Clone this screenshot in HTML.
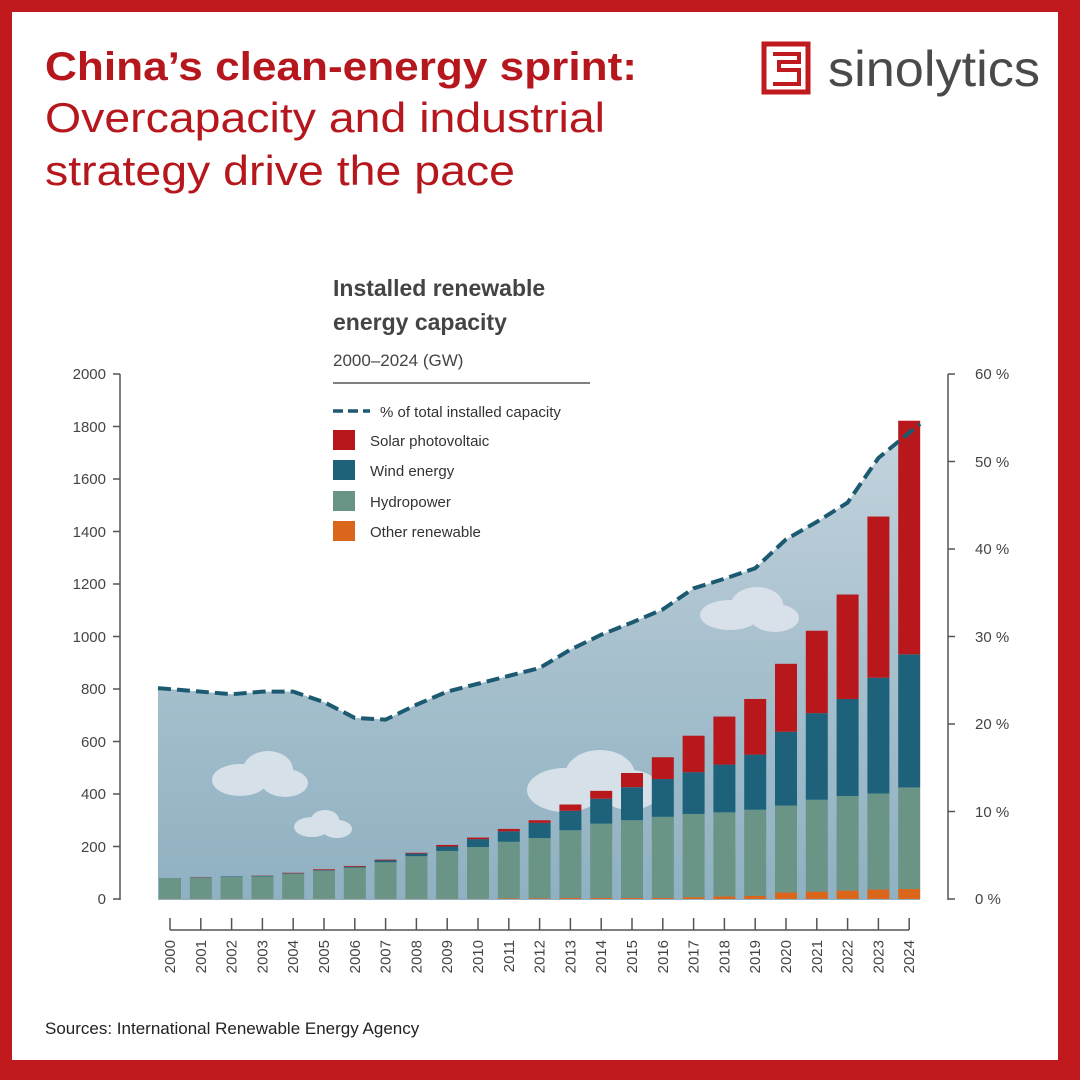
<!DOCTYPE html>
<html><head><meta charset="utf-8"><style>
html,body{margin:0;padding:0;background:#fff}
#f{position:relative;width:1080px;height:1080px;background:#c0191e;overflow:hidden}
#in{position:absolute;left:12px;top:12px;width:1046px;height:1048px;background:#fff}
svg{position:absolute;left:0;top:0}
text{font-family:"Liberation Sans",sans-serif}
</style></head><body><div id="f"><div id="in"></div>
<svg id="s" width="1080" height="1080" viewBox="0 0 1080 1080">
<defs>
<linearGradient id="g" x1="0" y1="0" x2="0" y2="1">
<stop offset="0" stop-color="#c3d4de"/><stop offset="0.5" stop-color="#a7c0cd"/><stop offset="1" stop-color="#8fb1c2"/></linearGradient>
</defs>
<text x="45" y="80" font-size="40" font-weight="bold" fill="#b5171d" textLength="592" lengthAdjust="spacingAndGlyphs">China’s clean-energy sprint:</text>
<text x="45" y="132" font-size="42" fill="#b5171d" textLength="560" lengthAdjust="spacingAndGlyphs">Overcapacity and industrial</text>
<text x="45" y="185" font-size="42" fill="#b5171d" textLength="470" lengthAdjust="spacingAndGlyphs">strategy drive the pace</text>
<rect x="764" y="44" width="44" height="48" fill="none" stroke="#c0191e" stroke-width="5"/>
<path d="M773 54h26v8h-20v8h20v14h-26" fill="none" stroke="#c0191e" stroke-width="4"/>
<text x="828" y="86" font-size="50" fill="#4a4a4a" textLength="212" lengthAdjust="spacingAndGlyphs">sinolytics</text>
<g id="area"></g>
<g id="clouds" fill="#dde5ec" opacity="0.9">
<ellipse cx="240" cy="780" rx="28" ry="16"/><ellipse cx="268" cy="770" rx="25" ry="19"/><ellipse cx="285" cy="783" rx="23" ry="14"/>
<ellipse cx="312" cy="827" rx="18" ry="10"/><ellipse cx="325" cy="820" rx="14" ry="10"/><ellipse cx="337" cy="829" rx="15" ry="9"/>
<ellipse cx="565" cy="790" rx="38" ry="22"/><ellipse cx="600" cy="775" rx="35" ry="25"/><ellipse cx="630" cy="790" rx="30" ry="20"/>
<ellipse cx="730" cy="615" rx="30" ry="15"/><ellipse cx="757" cy="605" rx="26" ry="18"/><ellipse cx="775" cy="618" rx="24" ry="14"/>
</g>
<g id="bars"></g>
<path id="ln" fill="none" stroke="#1c5a72" stroke-width="4" stroke-dasharray="13,6"/>
<text x="333" y="296" font-size="23" font-weight="bold" fill="#444">Installed renewable</text>
<text x="333" y="330" font-size="23" font-weight="bold" fill="#444">energy capacity</text>
<text x="333" y="366" font-size="17" fill="#444">2000–2024 (GW)</text>
<line x1="333" y1="383" x2="590" y2="383" stroke="#555" stroke-width="1.5"/>
<line x1="333" y1="411" x2="370" y2="411" stroke="#1c5a72" stroke-width="3.5" stroke-dasharray="10,5"/>
<text x="380" y="417" font-size="15" fill="#333">% of total installed capacity</text>
<rect x="333" y="430" width="22" height="20" fill="#b8181c"/><text x="370" y="446" font-size="15" fill="#333">Solar photovoltaic</text>
<rect x="333" y="460" width="22" height="20" fill="#1d627a"/><text x="370" y="476" font-size="15" fill="#333">Wind energy</text>
<rect x="333" y="491" width="22" height="20" fill="#6a9486"/><text x="370" y="507" font-size="15" fill="#333">Hydropower</text>
<rect x="333" y="521" width="22" height="20" fill="#d9661a"/><text x="370" y="537" font-size="15" fill="#333">Other renewable</text>
<g stroke="#555" stroke-width="1.5" fill="none">
<path d="M120 374V900M113 374h7M113 426.5h7M113 479h7M113 531.5h7M113 584h7M113 636.5h7M113 689h7M113 741.5h7M113 794h7M113 846.5h7M113 899h7"/>
<path d="M948 374V900M948 374h7M948 461.5h7M948 549h7M948 636.5h7M948 724h7M948 811.5h7M948 899h7"/>
<path id="xt" d="M170 930H909"/>
</g>
<g font-size="15" fill="#444" text-anchor="end">
<text x="106" y="379">2000</text><text x="106" y="432">1800</text><text x="106" y="484">1600</text><text x="106" y="537">1400</text><text x="106" y="589">1200</text><text x="106" y="642">1000</text><text x="106" y="694">800</text><text x="106" y="747">600</text><text x="106" y="799">400</text><text x="106" y="852">200</text><text x="106" y="904">0</text>
</g>
<g font-size="15" fill="#444">
<text x="975" y="379">60 %</text><text x="975" y="467">50 %</text><text x="975" y="554">40 %</text><text x="975" y="642">30 %</text><text x="975" y="729">20 %</text><text x="975" y="817">10 %</text><text x="975" y="904">0 %</text>
</g>
<g font-size="15" fill="#444" text-anchor="end">
<text transform="translate(175,940) rotate(-90)">2000</text><text transform="translate(205.8,940) rotate(-90)">2001</text><text transform="translate(236.6,940) rotate(-90)">2002</text><text transform="translate(267.4,940) rotate(-90)">2003</text><text transform="translate(298.2,940) rotate(-90)">2004</text><text transform="translate(329,940) rotate(-90)">2005</text><text transform="translate(359.8,940) rotate(-90)">2006</text><text transform="translate(390.6,940) rotate(-90)">2007</text><text transform="translate(421.4,940) rotate(-90)">2008</text><text transform="translate(452.2,940) rotate(-90)">2009</text><text transform="translate(483,940) rotate(-90)">2010</text><text transform="translate(513.8,940) rotate(-90)">2011</text><text transform="translate(544.6,940) rotate(-90)">2012</text><text transform="translate(575.4,940) rotate(-90)">2013</text><text transform="translate(606.2,940) rotate(-90)">2014</text><text transform="translate(637,940) rotate(-90)">2015</text><text transform="translate(667.8,940) rotate(-90)">2016</text><text transform="translate(698.6,940) rotate(-90)">2017</text><text transform="translate(729.4,940) rotate(-90)">2018</text><text transform="translate(760.2,940) rotate(-90)">2019</text><text transform="translate(791,940) rotate(-90)">2020</text><text transform="translate(821.8,940) rotate(-90)">2021</text><text transform="translate(852.6,940) rotate(-90)">2022</text><text transform="translate(883.4,940) rotate(-90)">2023</text><text transform="translate(914.2,940) rotate(-90)">2024</text>
</g>
<text x="45" y="1034" font-size="17" fill="#222">Sources: International Renewable Energy Agency</text>
</svg></div>
<script>
var NS="http://www.w3.org/2000/svg";
var d=[[1,80,80,80],[1,81,82,83],[1,84,86,86],[1,86,88,89],[1,96,98,100],[1,108,110,113],[1,120,123,126],[1,140,147,150],[1,163,173,176],[1,183,200,206],[1,198,228,234],[3,218,258,267],[3,232,290,300],[4,262,336,360],[4,287,382,412],[4,300,426,480],[4,313,457,540],[7,324,483,622],[10,330,512,695],[12,340,550,762],[25,356,637,896],[28,378,708,1022],[32,392,762,1160],[36,402,843,1457],[38,425,932,1822]];
var p=[24.1,23.7,23.4,23.7,23.7,22.5,20.7,20.5,22.2,23.7,24.6,25.5,26.4,28.5,30.2,31.6,33.1,35.5,36.6,37.8,41.1,43.1,45.3,50.4,54.3];
function Y(v){return 899-v*0.2625}
function X(i){return 170+i*30.8}
var b=document.getElementById("bars"),xt=document.getElementById("xt");
function r(x,y1,y2,c){var e=document.createElementNS(NS,"rect");e.setAttribute("x",x-11);e.setAttribute("width",22);e.setAttribute("y",Y(y2));e.setAttribute("height",Math.max(0,Y(y1)-Y(y2)));e.setAttribute("fill",c);b.appendChild(e)}
var tk="M170 930H909";
d.forEach(function(a,i){var x=X(i);r(x,0,a[0],"#d9661a");r(x,a[0],a[1],"#6a9486");r(x,a[1],a[2],"#1d627a");r(x,a[2],a[3],"#b8181c");tk+="M"+x+" 918V930"});
xt.setAttribute("d",tk);
var pts=p.map(function(v,i){return [i==0?158:(i==24?920:X(i)),899-v*8.75]});
var ld="M"+pts.map(function(q){return q[0]+" "+q[1]}).join("L");
document.getElementById("ln").setAttribute("d",ld);
var ar=document.createElementNS(NS,"path");ar.setAttribute("d",ld+"L920 900L158 900Z");ar.setAttribute("fill","url(#g)");
document.getElementById("area").appendChild(ar);
</script>
</body></html>
